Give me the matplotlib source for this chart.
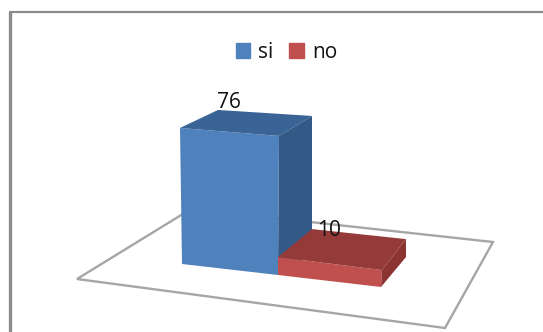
"""Recreate the 3D-look si/no column chart with flat polygons."""

import matplotlib
matplotlib.use("Agg")
import matplotlib.pyplot as plt
from matplotlib.patches import Patch, Polygon


CATEGORIES = ["si", "no"]
VALUES = [76, 10]
FRONT_COLORS = ["#4F81BD", "#C0504D"]
TOP_COLORS = ["#3A6495", "#943A38"]
SIDE_COLORS = ["#335A87", "#8C3432"]

WIDTH, HEIGHT = 543, 332
PX_PER_UNIT = 1.79
FONT = "Open Sans"

# base outline of each column in pixels: front-left, front-right, back-right, back-left
BASES = [
    [(182, 264), (278, 275), (312, 252), (218, 246)],
    [(278, 275), (381, 287), (406, 257), (312, 247)],
]
# small per-corner offsets of the top face against the base
LEANS = [
    [(-2, 0), (1, -3), (0, 0), (0, 0)],
    [(0, 0), (1, 1), (0, 0), (0, 0)],
]
LABEL_POS = [(229, 102), (329, 231)]
FLOOR = [(77, 279), (445, 328), (493, 242), (191, 209)]


def draw_column(ax, base, value, lean, front, top, side):
    """Draw one box, its height taken from the value."""
    rise = value * PX_PER_UNIT
    upper = [(x + dx, y - rise + dy) for (x, y), (dx, dy) in zip(base, lean)]
    ax.add_patch(Polygon([base[0], base[1], upper[1], upper[0]], color=front, lw=0, zorder=3))
    ax.add_patch(Polygon([upper[0], upper[1], upper[2], upper[3]], color=top, lw=0, zorder=3))
    ax.add_patch(Polygon([base[1], base[2], upper[2], upper[1]], color=side, lw=0, zorder=3))


fig = plt.figure(figsize=(WIDTH / 100, HEIGHT / 100), dpi=100)
ax = fig.add_axes([0, 0, 1, 1])
ax.set_xlim(0, WIDTH)
ax.set_ylim(HEIGHT, 0)
ax.axis("off")

# chart frame, only top and left edges are visible in the crop
ax.plot([10, 10], [HEIGHT, 12], color="#8C8C8C", lw=2.4, solid_capstyle="butt", zorder=1)
ax.plot([9, WIDTH], [12, 12], color="#8C8C8C", lw=1.6, solid_capstyle="butt", zorder=1)

ax.add_patch(Polygon(FLOOR, closed=True, fill=False, edgecolor="#A6A6A6", lw=1.7, zorder=2))

for i in range(len(VALUES)):
    draw_column(ax, BASES[i], VALUES[i], LEANS[i], FRONT_COLORS[i], TOP_COLORS[i], SIDE_COLORS[i])
    ax.text(LABEL_POS[i][0], LABEL_POS[i][1], str(VALUES[i]), fontsize=15, family=FONT,
            color="#111111", ha="center", va="center", zorder=5)

handles = [Patch(color=c) for c in FRONT_COLORS]
ax.legend(handles, CATEGORIES, loc="center", bbox_to_anchor=(286.5 / WIDTH, 1 - 52 / HEIGHT),
          ncol=2, frameon=False, prop={"family": FONT, "size": 15},
          handlelength=0.7, handleheight=0.7, handletextpad=0.4, columnspacing=0.75,
          labelcolor="#111111")

fig.savefig("out.png", dpi=100)
